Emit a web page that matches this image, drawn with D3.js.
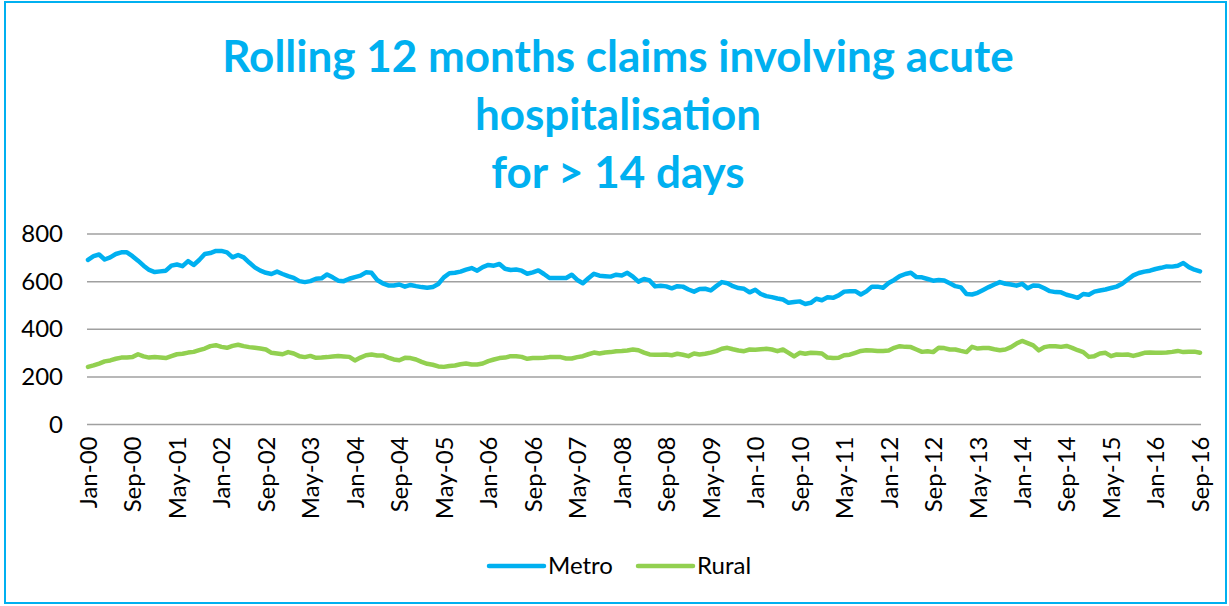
<!DOCTYPE html>
<html>
<head>
<meta charset="utf-8">
<script src="https://cdn.jsdelivr.net/npm/d3@7"></script>
<style>
  html, body { margin: 0; padding: 0; background: #fff; }
  svg text { font-family: Lato, "Open Sans", sans-serif; }
</style>
</head>
<body>
<svg id="chart" width="1229" height="606"></svg>
<script>
// monthly categories Jan-00 .. Sep-16
var monthNames = ['Jan','Feb','Mar','Apr','May','Jun','Jul','Aug','Sep','Oct','Nov','Dec'];
var months = [];
for (var yr = 0; yr <= 16; yr++) {
    for (var m = 0; m < 12; m++) {
        if (yr === 16 && m > 8) break;
        months.push(monthNames[m] + '-' + (yr < 10 ? '0' : '') + yr);
    }
}

var tickLabels = ['Jan-00','Sep-00','May-01','Jan-02','Sep-02','May-03','Jan-04','Sep-04','May-05',
    'Jan-06','Sep-06','May-07','Jan-08','Sep-08','May-09','Jan-10','Sep-10','May-11','Jan-12',
    'Sep-12','May-13','Jan-14','Sep-14','May-15','Jan-16','Sep-16'];

var yTicks = [0, 200, 400, 600, 800];

var metro = [
    691,707,714,693,702,716,723,723,707,688,
    667,649,640,643,646,667,672,665,686,670,
    691,716,720,729,729,723,702,712,702,680,
    660,646,637,632,642,632,623,616,602,598,
    602,612,614,630,618,604,602,612,619,625,
    639,637,607,593,584,584,588,579,586,581,
    577,574,577,590,618,635,637,642,650,657,
    646,661,670,667,674,654,649,651,646,633,
    639,647,632,615,615,615,615,629,607,593,
    614,633,625,623,621,629,626,637,621,600,
    611,605,580,583,580,572,581,579,567,558,
    569,570,563,581,598,593,581,573,570,555,
    566,548,539,535,529,525,511,514,517,506,
    511,528,522,534,532,542,558,560,560,546,
    559,579,579,574,594,607,623,632,637,619,
    618,611,604,607,605,593,581,576,548,546,
    553,565,577,588,598,591,588,583,591,572,
    584,583,572,560,556,555,545,539,532,548,
    545,558,563,567,573,579,591,609,626,636,
    642,646,653,658,664,663,667,678,661,650,643
];

var rural = [
    242,248,256,265,269,276,281,281,283,295,
    286,281,283,281,279,287,295,297,302,305,
    312,319,329,333,326,322,330,335,329,325,
    322,319,315,301,298,295,304,298,287,283,
    288,280,281,283,286,288,286,284,269,281,
    291,294,290,290,281,273,270,280,279,273,
    263,255,251,244,242,246,248,253,256,252,
    252,256,266,273,279,281,287,287,284,276,
    279,279,280,283,283,283,277,277,283,287,
    295,302,298,302,304,308,309,311,315,312,
    302,294,293,293,294,291,297,293,287,298,
    294,297,302,308,318,322,316,311,308,315,
    314,316,318,315,308,315,301,286,301,297,
    301,300,298,281,279,280,291,293,301,309,
    312,311,309,309,311,322,329,326,325,315,
    305,308,304,322,321,315,315,309,304,326,
    319,321,321,316,312,315,325,340,351,342,
    332,311,325,329,329,326,330,322,312,304,
    284,287,298,301,287,294,293,294,288,294,
    301,302,301,301,302,305,309,304,305,306,301
];

var seriesNames = ['Metro', 'Rural'];
var seriesColors = ['#00B0F0', '#92D050'];

var svg = d3.select('#chart');
var W = 1229, H = 606;
var plot = {l: 87, r: 1201, t: 234, b: 424.5};

// outer frame
svg.append('rect')
    .attr('x', 5).attr('y', 2)
    .attr('width', W - 8).attr('height', H - 5)
    .attr('fill', 'none')
    .attr('stroke', '#00B0F0')
    .attr('stroke-width', 2);

// title
var titleLines = ['Rolling 12 months claims involving acute', 'hospitalisation', 'for > 14 days'];
svg.append('g').selectAll('text')
    .data(titleLines)
    .enter().append('text')
    .attr('x', 618)
    .attr('y', function (d, i) { return 72 + i * 58; })
    .attr('text-anchor', 'middle')
    .style('font-size', '44px')
    .style('font-weight', 'bold')
    .style('fill', '#00B0F0')
    .text(function (d) { return d; });

var x = d3.scalePoint().domain(months).range([plot.l + 1, plot.r - 1]);
var y = d3.scaleLinear().domain([0, 800]).range([plot.b, plot.t]);

// gridlines
svg.append('g').selectAll('line')
    .data(yTicks)
    .enter().append('line')
    .attr('x1', plot.l).attr('x2', plot.r)
    .attr('y1', function (d) { return y(d); })
    .attr('y2', function (d) { return y(d); })
    .attr('stroke', '#a0a0a0')
    .attr('stroke-width', 1.5);

// y axis
var yAxis = svg.append('g')
    .attr('transform', 'translate(' + [63, 0] + ')')
    .call(d3.axisLeft(y).tickValues(yTicks).tickSize(0).tickPadding(0));
yAxis.select('.domain').remove();
yAxis.selectAll('text')
    .style('font-family', 'Lato, sans-serif')
    .style('font-size', '24px')
    .style('fill', '#000');

// x axis
var xAxis = svg.append('g')
    .attr('transform', 'translate(0,' + plot.b + ')')
    .call(d3.axisBottom(x).tickValues(tickLabels).tickSize(0));
xAxis.select('.domain').remove();
xAxis.selectAll('text')
    .attr('transform', 'rotate(-90)')
    .attr('x', -12)
    .attr('y', 0)
    .attr('dy', '0.35em')
    .style('text-anchor', 'end')
    .style('font-family', 'Lato, sans-serif')
    .style('font-size', '24px')
    .style('fill', '#000');

// lines
var line = d3.line()
    .x(function (d, i) { return x(months[i]); })
    .y(function (d) { return y(d); });

[metro, rural].forEach(function (s, k) {
    svg.append('path')
        .datum(s)
        .attr('d', line)
        .attr('fill', 'none')
        .attr('stroke', seriesColors[k])
        .attr('stroke-width', 4.5)
        .attr('stroke-linejoin', 'round')
        .attr('stroke-linecap', 'round');
});

// legend
var legendX = [489, 638];
var legend = svg.append('g').selectAll('g')
    .data(seriesNames)
    .enter().append('g')
    .attr('transform', function (d, i) { return 'translate(' + [legendX[i], 566] + ')'; });
legend.append('line')
    .attr('x1', 0).attr('x2', 55)
    .attr('stroke', function (d, i) { return seriesColors[i]; })
    .attr('stroke-width', 4.5)
    .attr('stroke-linecap', 'round');
legend.append('text')
    .attr('x', 59)
    .attr('y', 8)
    .style('font-size', '24px')
    .style('fill', '#000')
    .text(function (d) { return d; });
</script>
</body>
</html>
